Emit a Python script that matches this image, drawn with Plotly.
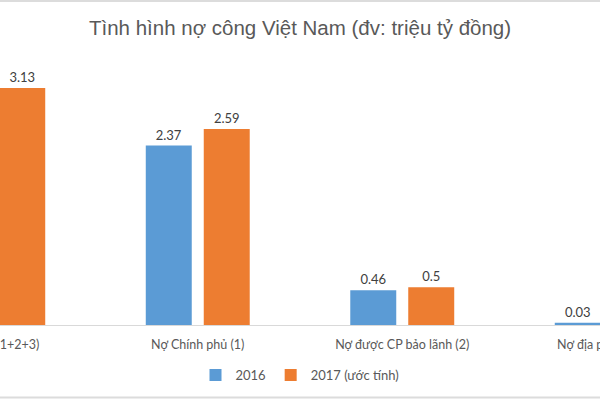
import plotly.graph_objects as go

categories = ["Nợ công (1+2+3)", "Nợ Chính phủ (1)", "Nợ được CP bảo lãnh (2)", "Nợ địa phương (3)"]
series_names = ["2016", "2017 (ước tính)"]
values_2016 = [2.86, 2.37, 0.46, 0.03]
values_2017 = [3.13, 2.59, 0.5, 0.04]
title_text = "Tình hình nợ công Việt Nam (đv: triệu tỷ đồng)"

BLUE = "#5B9BD5"
ORANGE = "#ED7D31"
TXT = "#595959"

FIG_W = 818
SHIFT = 109  # the reference is a crop of a wider chart

fig = go.Figure()
for name, vals, col in [(series_names[0], values_2016, BLUE), (series_names[1], values_2017, ORANGE)]:
    fig.add_trace(go.Bar(
        x=categories, y=vals, name=name, marker_color=col, marker_line_width=0,
        text=[f"{v:g}" for v in vals], textposition="outside",
        textfont=dict(family="Lato", size=13, color="#404040"),
    ))

fig.update_layout(
    width=FIG_W, height=400,
    margin=dict(l=0, r=0, t=60, b=75),
    paper_bgcolor="white", plot_bgcolor="white",
    title=dict(text=title_text, x=0.5, xanchor="center", y=1 - 28 / 400, yanchor="middle",
               font=dict(family="Liberation Sans", size=20.5, color=TXT)),
    barmode="group", bargap=0.433, bargroupgap=0.207,
    showlegend=True,
    legend=dict(orientation="h", x=0.5, xanchor="center", y=-0.189, yanchor="middle",
                font=dict(family="Lato", size=13, color=TXT), itemwidth=30,
                traceorder="normal"),
    xaxis=dict(showline=True, linecolor="#d9d9d9", linewidth=1, showgrid=False,
               ticks="", tickfont=dict(family="Lato", size=12.5, color=TXT),
               ticklabelstandoff=8, fixedrange=True),
    yaxis=dict(range=[0, 3.5], visible=False, showgrid=False, fixedrange=True),
    shapes=[
        dict(type="line", xref="paper", yref="paper", x0=0, x1=1, ysizemode="pixel", yanchor=0,
             y0=324, y1=324, line=dict(color="#dcdcdc", width=2)),
        dict(type="line", xref="paper", yref="paper", x0=0, x1=1, ysizemode="pixel", yanchor=0,
             y0=-72.5, y1=-72.5, line=dict(color="#dcdcdc", width=2)),
    ],
)

post = (
    "var gd=document.getElementById('{plot_id}');"
    "gd.style.marginLeft='-%dpx';"
    "document.documentElement.style.overflow='hidden';"
    "document.body.style.overflow='hidden';" % SHIFT
)
fig.write_html("out.html", post_script=post)
